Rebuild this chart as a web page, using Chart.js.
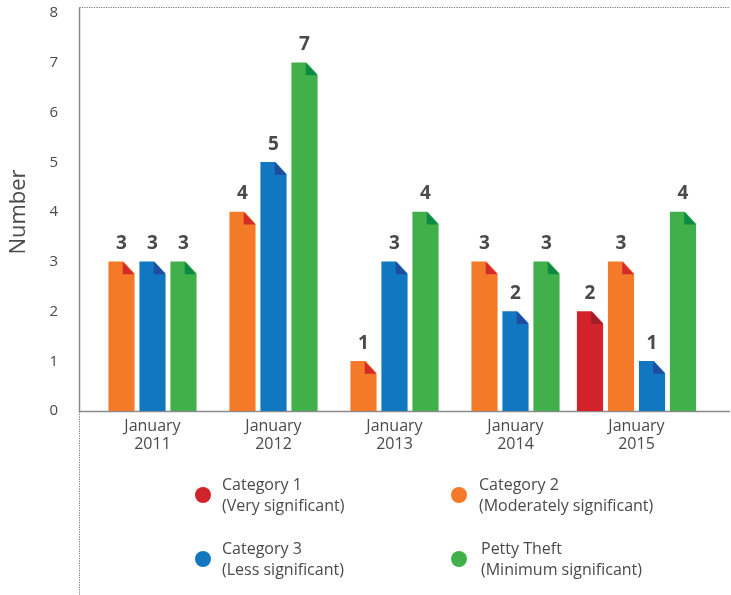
<!DOCTYPE html>
<html>
<head>
<meta charset="utf-8">
<script src="https://cdn.jsdelivr.net/npm/chart.js@4"></script>
<style>
  html, body { margin: 0; padding: 0; background: #fff; }
  #wrap { position: relative; width: 731px; height: 595px; }
  #legend { position: absolute; left: 0; top: 0; width: 731px; height: 595px; pointer-events: none; }
  .item { position: absolute; font-family: "Open Sans", sans-serif; font-size: 16px; line-height: 21px; color: #4a4a4a; white-space: nowrap; }
  .dot { position: absolute; width: 16px; height: 16px; border-radius: 50%; }
</style>
</head>
<body>
<div id="wrap">
  <canvas id="c" width="731" height="595"></canvas>
  <div id="legend"></div>
</div>
<script>
// ---- data ----
const categories = [['January','2011'], ['January','2012'], ['January','2013'], ['January','2014'], ['January','2015']];
const category1 = [null, null, null, null, 2];
const category2 = [3, 4, 1, 3, 3];
const category3 = [3, 5, 3, 2, 1];
const pettyTheft = [3, 7, 4, 3, 4];
const seriesNames = ['Category 1', 'Category 2', 'Category 3', 'Petty Theft'];
const seriesNotes = ['(Very significant)', '(Moderately significant)', '(Less significant)', '(Minimum significant)'];
const yMin = 0, yMax = 8, yStep = 1;

// ---- styles ----
const colors = ['#D2232A', '#F47A29', '#1277C1', '#41B04B'];
const foldColors = ['#A11F27', '#D52A2A', '#1E4D9F', '#0B8A44'];

const foldPlugin = {
  id: 'fold',
  afterDatasetsDraw(chart) {
    const ctx = chart.ctx;
    const fw = 11.5, fh = 12.5;
    ctx.save();
    chart.data.datasets.forEach((ds, di) => {
      const meta = chart.getDatasetMeta(di);
      meta.data.forEach((el, i) => {
        const v = ds.data[i];
        if (v === null || v === undefined) return;
        const p = el.getProps(['x', 'y', 'width'], true);
        const right = p.x + p.width / 2;
        const top = p.y;
        ctx.fillStyle = '#ffffff';
        ctx.beginPath();
        ctx.moveTo(right - fw, top - 1);
        ctx.lineTo(right + 1, top - 1);
        ctx.lineTo(right + 1, top + fh);
        ctx.closePath();
        ctx.fill();
        ctx.fillStyle = foldColors[di];
        ctx.beginPath();
        ctx.moveTo(right - fw, top);
        ctx.lineTo(right, top + fh);
        ctx.lineTo(right - fw, top + fh);
        ctx.closePath();
        ctx.fill();
        ctx.fillStyle = '#4a4a4a';
        ctx.font = 'bold 19px "Open Sans", sans-serif';
        ctx.textAlign = 'center';
        ctx.textBaseline = 'middle';
        ctx.fillText(String(v), p.x, top - 18);
      });
    });
    ctx.restore();
  }
};

const axisPlugin = {
  id: 'axisLines',
  beforeDatasetsDraw(chart) {
    const ctx = chart.ctx;
    const ca = chart.chartArea;
    const x0 = Math.round(ca.left - 13) + 0.5;
    const xEnd = ca.right + 33;
    const yTop = ca.top - 5.5;
    const yBase = Math.round(ca.bottom) + 0.5;
    ctx.save();
    ctx.strokeStyle = '#8a8a8a';
    ctx.lineWidth = 1.5;
    ctx.beginPath();
    ctx.moveTo(x0, yTop);
    ctx.lineTo(x0, yBase);
    ctx.lineTo(xEnd, yBase);
    ctx.stroke();
    ctx.lineWidth = 1;
    ctx.setLineDash([1.2, 1.2]);
    ctx.strokeStyle = '#777';
    ctx.beginPath();
    ctx.moveTo(x0, yTop);
    ctx.lineTo(xEnd, yTop);
    ctx.moveTo(x0, yBase);
    ctx.lineTo(x0, chart.height);
    ctx.stroke();
    ctx.restore();
  }
};

const seriesData = [category1, category2, category3, pettyTheft];

new Chart(document.getElementById('c'), {
  type: 'bar',
  data: {
    labels: categories,
    datasets: seriesData.map((d, i) => ({
      label: seriesNames[i],
      data: d,
      backgroundColor: colors[i],
      borderWidth: 0,
      skipNull: true,
      barThickness: 31,
      maxBarThickness: 25.5
    }))
  },
  options: {
    responsive: false,
    animation: false,
    events: [],
    layout: { padding: { top: 13, right: 34, left: 0, bottom: 0 } },
    plugins: { legend: { display: false }, tooltip: { enabled: false } },
    scales: {
      x: {
        grid: { display: false, drawTicks: false },
        border: { display: false },
        ticks: {
          color: '#4a4a4a',
          font: { family: 'Open Sans', size: 16, lineHeight: 1.15 },
          padding: 6,
          maxRotation: 0,
          autoSkip: false
        },
        afterFit(scale) { scale.height = 184; }
      },
      y: {
        min: yMin, max: yMax,
        grid: { display: false, drawTicks: false },
        border: { display: false },
        ticks: {
          stepSize: yStep,
          color: '#4a4a4a',
          font: { family: 'Open Sans', size: 15 },
          padding: 34
        },
        title: {
          display: true,
          text: 'Number',
          color: '#4a4a4a',
          font: { family: 'Open Sans', size: 22 },
          padding: { top: 6, bottom: 0 }
        },
        afterFit(scale) { scale.width = 92; scale.paddingTop = 0; scale.paddingBottom = 0; }
      }
    }
  },
  plugins: [axisPlugin, foldPlugin]
});

// ---- HTML legend (2 x 2) ----
const legendPos = [
  { dx: 203, dy: 495, tx: 222, ty: 474 },
  { dx: 459, dy: 495, tx: 479, ty: 474 },
  { dx: 203, dy: 559, tx: 222, ty: 538 },
  { dx: 459, dy: 559, tx: 481, ty: 538 }
];
const lg = document.getElementById('legend');
seriesNames.forEach((name, i) => {
  const p = legendPos[i];
  const dot = document.createElement('div');
  dot.className = 'dot';
  dot.style.background = colors[i];
  dot.style.left = (p.dx - 8) + 'px';
  dot.style.top = (p.dy - 8) + 'px';
  lg.appendChild(dot);
  const t = document.createElement('div');
  t.className = 'item';
  t.style.left = p.tx + 'px';
  t.style.top = p.ty + 'px';
  t.innerHTML = name + '<br>' + seriesNotes[i];
  lg.appendChild(t);
});
</script>
</body>
</html>
